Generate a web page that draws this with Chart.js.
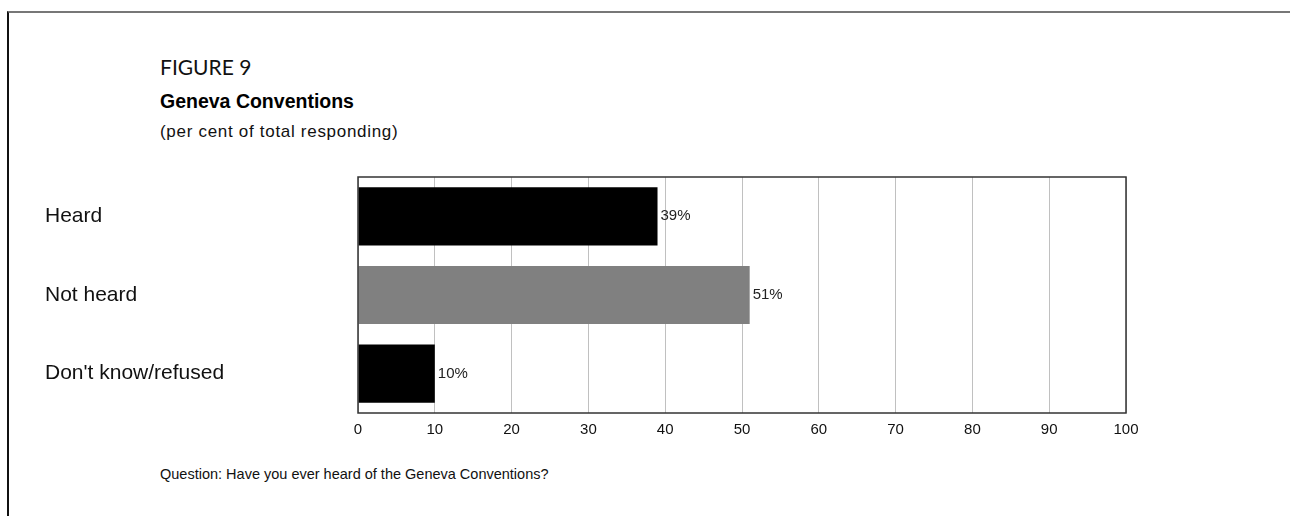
<!DOCTYPE html>
<html>
<head>
<meta charset="utf-8">
<script src="https://cdn.jsdelivr.net/npm/chart.js@4.4.1/dist/chart.umd.min.js"></script>
<style>
  html, body { margin: 0; padding: 0; background: #fff; }
  body { width: 1290px; height: 516px; position: relative; overflow: hidden;
         font-family: "Liberation Sans", Arial, sans-serif; color: #000; }
  #frame { position: absolute; left: 7px; top: 11px; right: -10px; bottom: -10px;
           border-top: 2px solid #777; border-left: 2px solid #111; }
  .txt { position: absolute; left: 160px; line-height: 1; white-space: nowrap; }
  #fig { top: 56px; font-family: Lato, "Liberation Sans", sans-serif; font-weight: 400;
         font-size: 21px; color: #111; }
  #title { top: 92px; font-size: 19.5px; font-weight: bold; }
  #sub { top: 123px; font-size: 17px; letter-spacing: 0.7px; color: #111; }
  #question { top: 467px; font-size: 14.5px; color: #111; }
  #wrap { position: absolute; left: 0; top: 0; width: 1290px; height: 516px; }
</style>
</head>
<body>
<div id="frame"></div>
<div class="txt" id="fig">FIGURE 9</div>
<div class="txt" id="title">Geneva Conventions</div>
<div class="txt" id="sub">(per cent of total responding)</div>
<div class="txt" id="question">Question: Have you ever heard of the Geneva Conventions?</div>
<div id="wrap"><canvas id="chart"></canvas></div>
<script>
// --- data ---
const categories = ['Heard', 'Not heard', "Don't know/refused"];
const percentValues = [39, 51, 10];
const barColors = ['#000000', '#808080', '#000000'];
const xTicks = [0, 10, 20, 30, 40, 50, 60, 70, 80, 90, 100];

// labels like "39%" just right of each bar
const valueLabels = {
    id: 'valueLabels',
    afterDatasetsDraw(chart) {
        const c = chart.ctx;
        const meta = chart.getDatasetMeta(0);
        c.save();
        c.font = '15px "Liberation Sans", Arial, sans-serif';
        c.fillStyle = '#222';
        c.textAlign = 'left';
        c.textBaseline = 'middle';
        meta.data.forEach((bar, i) => {
            c.fillText(percentValues[i] + '%', bar.x + 3, bar.y);
        });
        c.restore();
    }
};

// dark frame round the plot area
const plotFrame = {
    id: 'plotFrame',
    afterDraw(chart) {
        const a = chart.chartArea;
        const c = chart.ctx;
        c.save();
        c.strokeStyle = '#333';
        c.lineWidth = 1.5;
        c.strokeRect(a.left, a.top, a.right - a.left, a.bottom - a.top);
        c.restore();
    }
};

const ctx = document.getElementById('chart').getContext('2d');
new Chart(ctx, {
    type: 'bar',
    data: {
        labels: categories,
        datasets: [{
            data: percentValues,
            backgroundColor: barColors,
            borderWidth: 0,
            barPercentage: 0.74,
            categoryPercentage: 1.0
        }]
    },
    options: {
        indexAxis: 'y',
        responsive: true,
        maintainAspectRatio: false,
        animation: false,
        layout: { padding: { left: 45, top: 177, right: 164, bottom: 73 } },
        plugins: { legend: { display: false }, tooltip: { enabled: false } },
        scales: {
            x: {
                min: 0, max: 100,
                afterBuildTicks: axis => { axis.ticks = xTicks.map(v => ({ value: v })); },
                afterFit: axis => { axis.height = 30; },
                grid: { color: '#c0c0c0', lineWidth: 1, drawTicks: false },
                border: { display: false },
                ticks: {
                    padding: 8,
                    color: '#111',
                    font: { family: '"Liberation Sans", Arial, sans-serif', size: 15 }
                }
            },
            y: {
                afterFit: axis => { axis.width = 313; },
                grid: { display: false },
                border: { display: false },
                ticks: {
                    crossAlign: 'far',
                    color: '#111',
                    font: { family: '"Liberation Sans", Arial, sans-serif', size: 21 }
                }
            }
        }
    },
    plugins: [valueLabels, plotFrame]
});
</script>
</body>
</html>
